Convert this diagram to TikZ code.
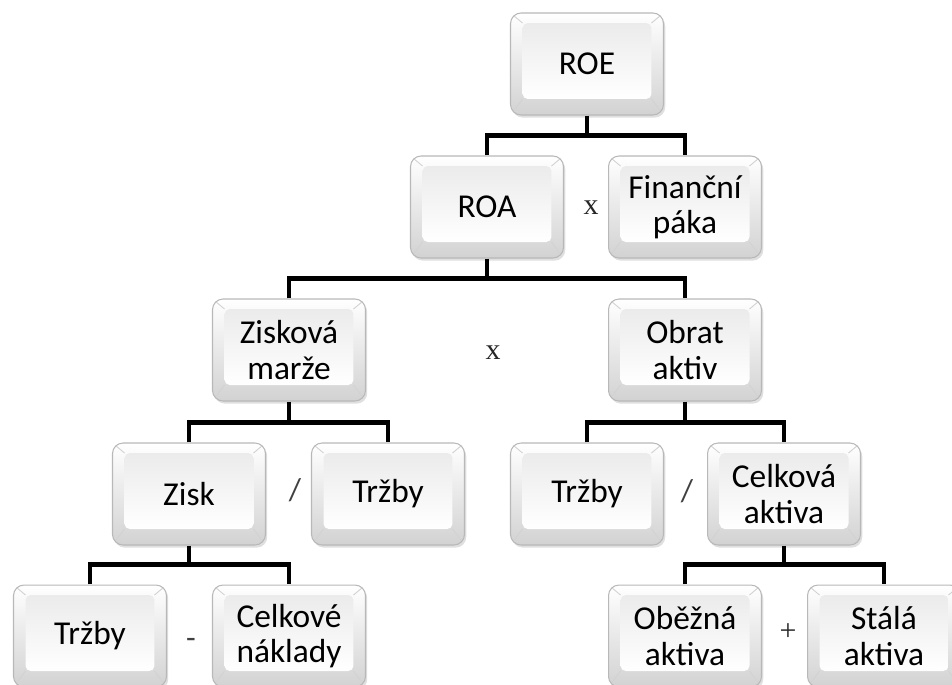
\documentclass[tikz,border=0pt]{standalone}
\usepackage{fontspec}
\setmainfont{Carlito}
\newfontfamily\opfont{Liberation Serif}
\usetikzlibrary{shadows}
\definecolor{keyrim}{HTML}{B8B8B8}
\definecolor{keyside}{HTML}{D2D2D2}
\definecolor{keyface}{HTML}{EBEBEB}

\begin{document}
\begin{tikzpicture}[x=0.02cm,y=-0.02cm,font=\fontsize{19}{20}\selectfont,
key/.style={rounded corners=6pt,minimum width=3.06cm,minimum height=2.04cm,align=center,
  draw=keyrim,line width=0.6pt,top color=white,bottom color=keyside,
  drop shadow={opacity=0.25,shadow xshift=1pt,shadow yshift=-1.5pt},
  path picture={
    \coordinate (kNW) at ([xshift=0.24cm,yshift=-0.2cm]path picture bounding box.north west);
    \coordinate (kSE) at ([xshift=-0.24cm,yshift=0.32cm]path picture bounding box.south east);
    \shade[top color=keyface,bottom color=white,rounded corners=3pt] (kNW) rectangle (kSE);
    \draw[keyside,line width=0.5pt] (path picture bounding box.north west) -- (kNW)
      (path picture bounding box.south east) -- (kSE)
      (path picture bounding box.north east) -- (kSE|-kNW)
      (path picture bounding box.south west) -- (kNW|-kSE);}},
op/.style={font=\opfont\fontsize{17}{17}\selectfont,text=black!85},
sop/.style={font=\fontsize{18}{18}\selectfont,text=black!75},
conn/.style={line width=2.8pt}]
\useasboundingbox (0,0) rectangle (952,684);
% tree of boxes
\node[key] (roe) at (587,64) {ROE};
\node[key] (roa) at (487,207) {ROA};
\node[key] (paka) at (685,207) {Finanční\\páka};
\node[key] (marze) at (289,350) {Zisková\\marže};
\node[key] (obrat) at (685,350) {Obrat\\aktiv};
\node[key] (zisk) at (189,494) {Zisk};
\node[key] (trzbyA) at (388,494) {Tržby};
\node[key] (trzbyB) at (587,494) {Tržby};
\node[key] (aktiva) at (784,494) {Celková\\aktiva};
\node[key] (trzbyC) at (90,636) {Tržby};
\node[key] (naklady) at (289,636) {Celkové\\náklady};
\node[key] (obezna) at (685,636) {Oběžná\\aktiva};
\node[key] (stala) at (884,636) {Stálá\\aktiva};
% operators
\node[op] (times1) at (591,208) {x};
\node[op] (times2) at (493,353) {x};
\node[sop] (div1) at (295,490) {/};
\node[sop] (div2) at (687,491) {/};
\node[sop] (minus) at (191,643) {-};
\node[op] (plus) at (788,632) {+};
% connectors
\draw[conn] (roe.south) -- ++(0,22);\draw[conn] (roa.north) -- ++(0,-20) -| (paka.north);
\draw[conn] (roa.south) -- ++(0,22);\draw[conn] (marze.north) -- ++(0,-20) -| (obrat.north);
\draw[conn] (marze.south) -- ++(0,22);\draw[conn] (zisk.north) -- ++(0,-20) -| (trzbyA.north);
\draw[conn] (obrat.south) -- ++(0,22);\draw[conn] (trzbyB.north) -- ++(0,-20) -| (aktiva.north);
\draw[conn] (zisk.south) -- ++(0,20);\draw[conn] (trzbyC.north) -- ++(0,-20) -| (naklady.north);
\draw[conn] (aktiva.south) -- ++(0,20);\draw[conn] (obezna.north) -- ++(0,-20) -| (stala.north);
\end{tikzpicture}
\end{document}
